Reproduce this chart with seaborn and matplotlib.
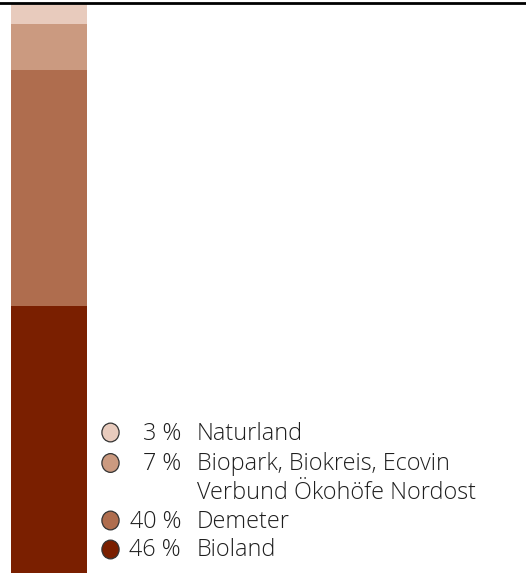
import matplotlib
matplotlib.use("Agg")
import matplotlib.pyplot as plt
import seaborn as sns
import pandas as pd
import numpy as np

# data (bottom to top)
categories = ["Bioland", "Demeter", "Biopark, Biokreis, Ecovin\nVerbund Ökohöfe Nordost", "Naturland"]
pct_labels = ["46 %", "40 %", "7 %", "3 %"]
shares = [46.8, 41.4, 8.1, 3.7]   # segment heights
colors = ["#7A1F00", "#AF6D4E", "#CB9A80", "#E8CBBD"]

sns.set_theme(style="white")
plt.rcParams['font.family'] = ['Open Sans', 'DejaVu Sans']

W, H = 526, 573
fig = plt.figure(figsize=(W / 100, H / 100), dpi=100)
ax = fig.add_axes([0, 0, 1, 1 - 3 / H])

# stacked bar: draw cumulative totals from top down so each segment shows
cum = np.cumsum(shares)
for i in range(len(shares) - 1, -1, -1):
    df = pd.DataFrame({"x": ["all"], "y": [cum[i]]})
    sns.barplot(data=df, x="x", y="y", color=colors[i], saturation=1,
                width=1.0, ax=ax, linewidth=0)

ax.set_ylim(0, cum[-1])
ax.set_xlim(-0.5 - 11 / 76, -0.5 + (W - 11) / 76)
ax.set_xlabel("")
ax.set_ylabel("")
ax.set_xticks([])
ax.set_yticks([])
for s in ["left", "right", "bottom"]:
    ax.spines[s].set_visible(False)
ax.spines["top"].set_visible(True)
ax.spines["top"].set_color("black")
ax.spines["top"].set_linewidth(2)

# legend (top to bottom)
rows_y = [433.5, 464, 521.5, 550.5]
order = [3, 2, 1, 0]
fs = 16.8
for ry, idx in zip(rows_y, order):
    yf = 1 - ry / H
    fig.patches.append(matplotlib.patches.Circle(
        (110.5 / W, 1 - (ry - 1) / H), 8.6 / W, transform=fig.transFigure,
        facecolor=colors[idx], edgecolor="#333333", linewidth=0.9))
    fig.text(181 / W, yf, pct_labels[idx], ha="right", va="center",
             fontsize=fs, color="#1e1e1e", fontweight=300)
    lines = categories[idx].split("\n")
    for k, line in enumerate(lines):
        fig.text(197 / W, 1 - (ry + k * 29) / H, line, ha="left", va="center",
                 fontsize=fs, color="#1e1e1e", fontweight=300)

fig.savefig("out.png", dpi=100)
